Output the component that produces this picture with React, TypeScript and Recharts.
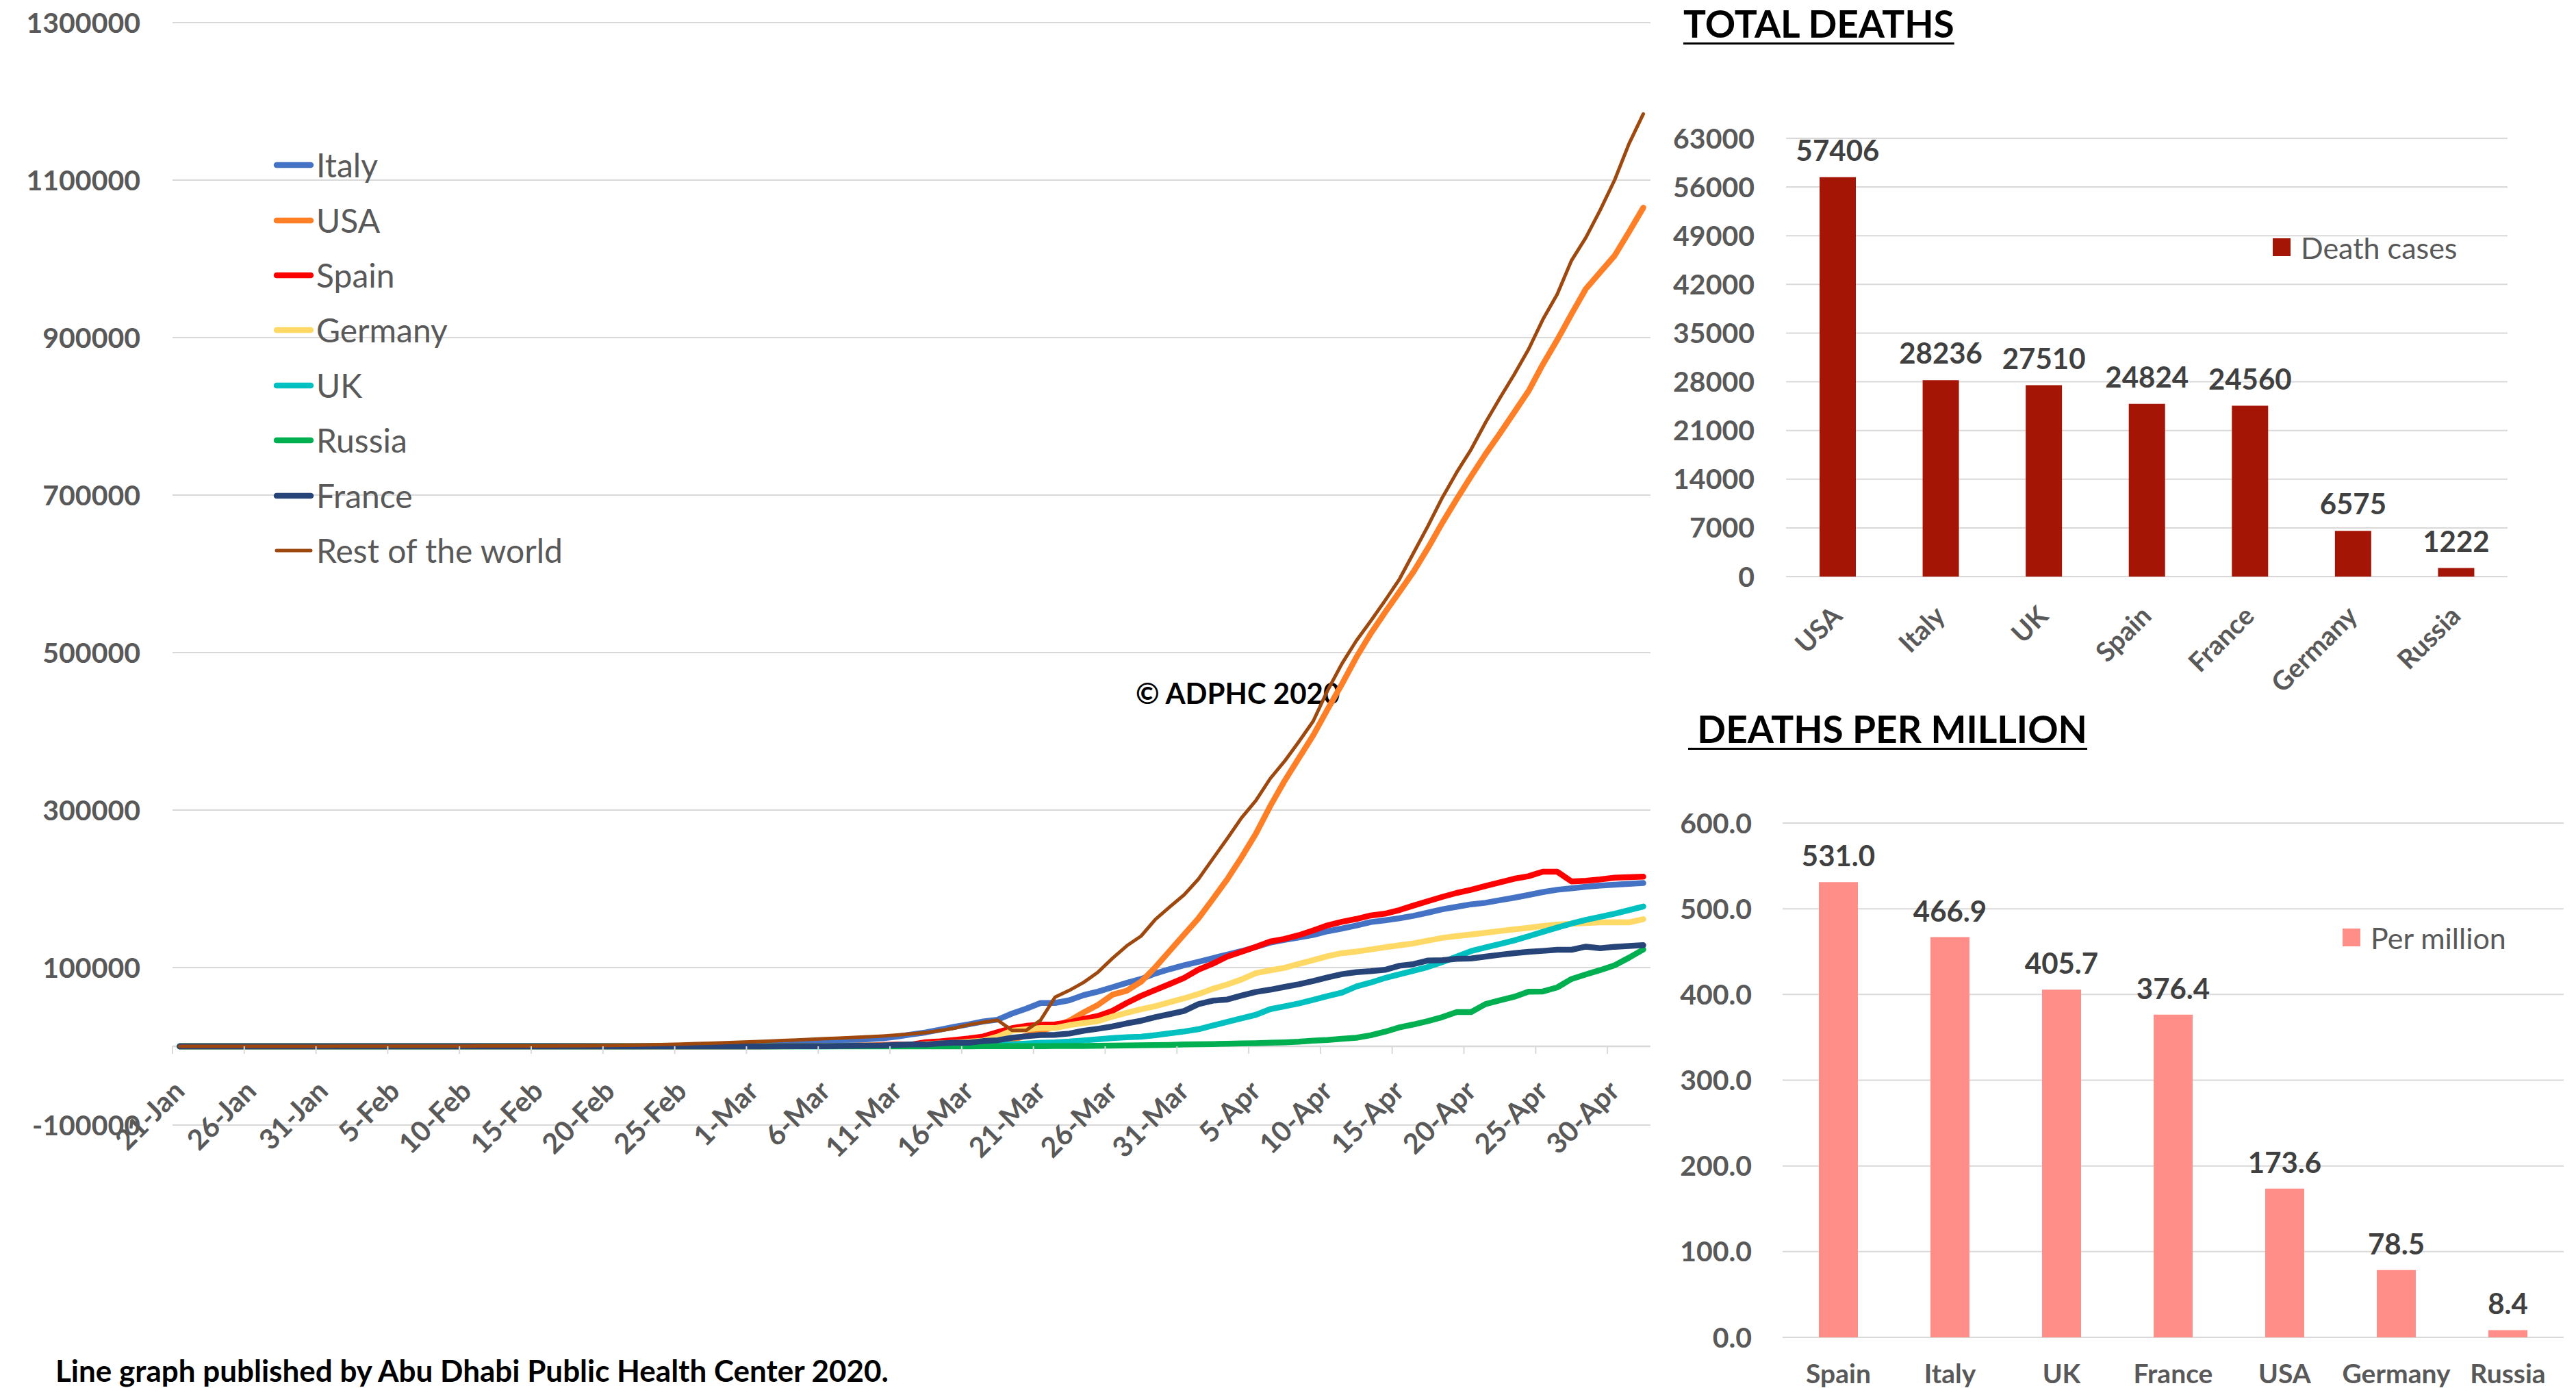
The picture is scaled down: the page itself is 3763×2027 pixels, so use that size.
import {
  Bar,
  BarChart,
  CartesianGrid,
  LabelList,
  Legend,
  Line,
  LineChart,
  ReferenceLine,
  XAxis,
  YAxis,
} from "recharts";

const FONT = "Lato, 'Open Sans', sans-serif";
const AXIS_GREY = "#595959";
const GRID = "#D9D9D9";

// one value per day, first slot is 21-Jan, last is 2-May
const tickLabels = [
  "21-Jan", "26-Jan", "31-Jan", "5-Feb", "10-Feb", "15-Feb", "20-Feb",
  "25-Feb", "1-Mar", "6-Mar", "11-Mar", "16-Mar", "21-Mar", "26-Mar",
  "31-Mar", "5-Apr", "10-Apr", "15-Apr", "20-Apr", "25-Apr", "30-Apr",
];

const italy = [
  0, 0, 0, 0, 0, 0, 0, 0, 0, 0,
  2, 2, 2, 2, 2, 2, 2, 3, 3, 3,
  3, 3, 3, 3, 3, 3, 3, 3, 3, 3,
  3, 20, 62, 155, 229, 322, 453, 655, 888, 1128,
  1694, 2036, 2502, 3089, 3858, 4636, 5883, 7375, 9172, 10149,
  12462, 15113, 17660, 21157, 24747, 27980, 31506, 33800, 41500, 47800,
  55000, 55000, 58500, 65000, 69500, 75000, 80500, 85500, 92500, 98000,
  103000, 107300, 111900, 116500, 120900, 126100, 131600, 135100, 138300, 141500,
  146100, 149600, 153300, 157700, 160000, 162600, 165800, 169800, 174000, 177200,
  180300, 182300, 185500, 188700, 192200, 195900, 198800, 200600, 202600, 204100,
  205300, 206400, 207300,
];

const usa = [
  0, 0, 0, 1, 1, 1, 2, 2, 5, 5,
  5, 6, 8, 8, 11, 11, 11, 12, 12, 12,
  12, 12, 12, 13, 13, 13, 13, 13, 13, 13,
  13, 13, 15, 15, 15, 35, 35, 53, 53, 62,
  70, 76, 101, 122, 153, 221, 278, 417, 537, 605,
  959, 1281, 1663, 2179, 2726, 3499, 4632, 6421, 7786, 13680,
  19101, 25489, 32500, 43000, 52700, 65500, 70500, 82000, 100500, 121300,
  142000, 162500, 187000, 212000, 240000, 270000, 305000, 337000, 366000, 395000,
  428000, 460000, 494000, 524000, 551000, 577000, 603000, 633000, 665000, 695000,
  724000, 752000, 778000, 805000, 832000, 866000, 897000, 930000, 962000, 983000,
  1004000, 1034000, 1065000,
];

const spain = [
  0, 0, 0, 0, 0, 0, 0, 0, 0, 0,
  0, 1, 1, 1, 1, 1, 1, 1, 1, 2,
  2, 2, 2, 2, 2, 2, 2, 2, 2, 2,
  2, 2, 2, 2, 2, 6, 13, 15, 32, 45,
  84, 120, 165, 222, 259, 400, 500, 673, 1073, 1695,
  2277, 2277, 5232, 6391, 8000, 10000, 12500, 18000, 23000, 26000,
  27500, 27800, 30400, 34800, 38500, 45000, 55000, 64000, 71600, 79100,
  86900, 97400, 104900, 113900, 120000, 126300, 133000, 136400, 141100, 147200,
  153600, 158200, 161700, 166100, 168400, 173000, 178800, 184300, 189800, 194800,
  198800, 203500, 208100, 212800, 216000, 221800, 221800, 209300, 210200, 211900,
  214200, 214800, 215400,
];

const germany = [
  0, 0, 0, 0, 0, 0, 0, 1, 4, 4,
  5, 7, 8, 10, 12, 12, 12, 13, 14, 14,
  16, 16, 16, 16, 16, 16, 16, 16, 16, 16,
  16, 16, 16, 16, 16, 16, 17, 27, 46, 48,
  79, 130, 159, 196, 262, 482, 670, 799, 1040, 1176,
  1457, 1908, 2745, 3675, 4585, 5795, 7272, 12327, 19800, 21700,
  23200, 23200, 26900, 29600, 32000, 37700, 42500, 47000, 51000, 56000,
  60900, 66400, 73000, 78500, 84900, 93000, 96500, 99700, 104600, 109500,
  114500, 118300, 120300, 122900, 125800, 128200, 130700, 134200, 137700, 140000,
  142000, 144100, 146400, 148400, 150400, 152800, 154500, 155700, 156600, 157400,
  157700, 157400, 161500,
];

const uk = [
  0, 0, 0, 0, 0, 0, 0, 0, 0, 0,
  0, 0, 2, 2, 2, 2, 2, 2, 2, 3,
  8, 8, 8, 9, 9, 9, 9, 9, 9, 9,
  9, 9, 9, 9, 9, 13, 13, 13, 13, 15,
  20, 23, 36, 40, 51, 85, 115, 163, 206, 273,
  321, 382, 456, 590, 798, 1140, 1551, 1960, 2700, 3500,
  4500, 5000, 6000, 7500, 9000, 10500, 11500, 12200, 14200, 16500,
  18800, 21700, 26400, 31000, 35600, 40000, 47200, 50700, 54500, 59100,
  63800, 68100, 75900, 80900, 86700, 91500, 95900, 100800, 106900, 113900,
  120900, 125500, 129900, 134500, 139800, 145300, 150700, 155900, 160600, 164500,
  168400, 173000, 177600,
];

const russia = [
  0, 0, 0, 0, 0, 0, 0, 0, 0, 0,
  0, 2, 2, 2, 2, 2, 2, 2, 2, 2,
  2, 2, 2, 2, 2, 2, 2, 2, 2, 2,
  2, 2, 2, 2, 2, 2, 2, 2, 2, 2,
  2, 3, 3, 3, 4, 4, 4, 10, 10, 17,
  17, 28, 45, 59, 63, 93, 114, 147, 199, 253,
  306, 367, 438, 495, 658, 840, 1036, 1264, 1534, 1836,
  2300, 2600, 2900, 3300, 3600, 4000, 4500, 5000, 5800, 7200,
  8100, 9600, 10900, 14000, 18500, 24000, 27800, 32100, 37100, 43500,
  43500, 53600, 58300, 62900, 69300, 69600, 74800, 85500, 91300, 96800,
  102900, 112500, 122900,
];

const france = [
  0, 0, 0, 2, 3, 3, 3, 4, 5, 5,
  5, 6, 6, 6, 6, 6, 6, 11, 11, 11,
  11, 11, 11, 11, 11, 12, 12, 12, 12, 12,
  12, 12, 12, 12, 12, 12, 12, 14, 18, 38,
  57, 100, 130, 191, 204, 288, 380, 656, 959, 1136,
  1784, 2284, 2284, 3667, 4480, 4513, 6650, 7699, 10900, 12700,
  14400, 14500, 16200, 19800, 22300, 25200, 29100, 32400, 37100, 40900,
  44900, 53600, 58000, 59400, 64400, 69000, 71900, 75400, 78800, 82900,
  87500, 91600, 94200, 95400, 97100, 102300, 104400, 109000, 109300, 111000,
  111600, 113900, 116200, 118300, 120000, 121200, 122600, 122600, 126600, 124600,
  126400, 127300, 128400,
];

const restOfWorld = [
  8, 10, 13, 19, 27, 35, 45, 56, 65, 85,
  95, 110, 120, 135, 150, 165, 180, 200, 230, 260,
  300, 330, 370, 400, 430, 450, 480, 550, 700, 900,
  1000, 1200, 1500, 1900, 2400, 2900, 3400, 4000, 4600, 5200,
  5900, 6600, 7300, 8100, 8900, 9700, 10400, 11200, 12100, 13000,
  14300, 15800, 17400, 20000, 23000, 27500, 30500, 33300, 20300, 20300,
  33300, 62300, 71000, 81200, 94200, 111600, 127600, 140000, 161200, 177100,
  192400, 212400, 238200, 263700, 290100, 312000, 340000, 362000, 387000, 413000,
  452000, 486000, 515000, 540000, 566000, 593000, 627000, 661000, 697000, 729000,
  758000, 792000, 823000, 853000, 885000, 923000, 955000, 998000, 1027000, 1062000,
  1100000, 1146000, 1184000,
];

const caseTicks = [-100000, 100000, 300000, 500000, 700000, 900000, 1100000, 1300000];

const deathCountries = ["USA", "Italy", "UK", "Spain", "France", "Germany", "Russia"];
const deathCounts = [57406, 28236, 27510, 24824, 24560, 6575, 1222];
const deathTicks = [0, 7000, 14000, 21000, 28000, 35000, 42000, 49000, 56000, 63000];

const perMillionCountries = ["Spain", "Italy", "UK", "France", "USA", "Germany", "Russia"];
const perMillion = [531.0, 466.9, 405.7, 376.4, 173.6, 78.5, 8.4];
const perMillionTicks = [0, 100, 200, 300, 400, 500, 600];

const lineSeries = [
  { name: "Italy", values: italy, color: "#4472C4", width: 8.5 },
  { name: "USA", values: usa, color: "#FF7F27", width: 8.5 },
  { name: "Spain", values: spain, color: "#FF0000", width: 8.5 },
  { name: "Germany", values: germany, color: "#FFD966", width: 8.5 },
  { name: "UK", values: uk, color: "#00C0C0", width: 8.5 },
  { name: "Russia", values: russia, color: "#00B050", width: 8.5 },
  { name: "France", values: france, color: "#264478", width: 8.5 },
  { name: "Rest of the world", values: restOfWorld, color: "#9E480E", width: 5 },
];

const caseRows = italy.map((_, i) => {
  const row: Record<string, number> = { slot: i };
  lineSeries.forEach((s) => {
    row[s.name] = s.values[i];
  });
  return row;
});

const deathRows = deathCountries.map((country, i) => ({ country, deaths: deathCounts[i] }));
const perMillionRows = perMillionCountries.map((country, i) => ({ country, rate: perMillion[i] }));

// tick marks sit on the day boundaries, every fifth day
const dayTicks = tickLabels.map((_, k) => k * 5 - 0.5);

const LINE_W = 2430;
const LINE_H = 1720;
const LINE_MARGIN = { top: 33, right: 19, bottom: 17, left: 0 };
const LINE_XAXIS_H = 60;
const LINE_PLOT_H = LINE_H - LINE_MARGIN.top - LINE_MARGIN.bottom - LINE_XAXIS_H;
// distance from the -100000 gridline up to the zero line
const ZERO_LIFT = (LINE_PLOT_H * 100000) / 1400000;

const DateTick = (props: any) => {
  const { x, y, payload } = props;
  const k = Math.round((payload.value + 0.5) / 5);
  const zeroY = y - ZERO_LIFT;
  const ax = x + 20;
  const ay = zeroY + 68;
  return (
    <g>
      <line x1={x} x2={x} y1={zeroY} y2={zeroY + 11} stroke={GRID} strokeWidth={2} />
      <text
        x={ax}
        y={ay}
        transform={`rotate(-45 ${ax} ${ay})`}
        textAnchor="end"
        fill={AXIS_GREY}
        fontSize={41}
        fontWeight={700}
        fontFamily={FONT}
      >
        {tickLabels[k]}
      </text>
    </g>
  );
};

const SlantTick = (props: any) => {
  const { x, y, payload } = props;
  const ax = x + 9;
  const ay = y + 60;
  return (
    <text
      x={ax}
      y={ay}
      transform={`rotate(-45 ${ax} ${ay})`}
      textAnchor="end"
      fill={AXIS_GREY}
      fontSize={39}
      fontWeight={700}
      fontFamily={FONT}
    >
      {payload.value}
    </text>
  );
};

// legend rows follow the series order, not the library's sorting
const SeriesKey = () => (
  <div style={{ fontFamily: FONT }}>
    {lineSeries.map((s) => (
      <div key={s.name} style={{ display: "flex", alignItems: "center", height: 80.4 }}>
        <svg width={66} height={20} style={{ display: "block" }}>
          <line
            x1={8}
            y1={10}
            x2={58}
            y2={10}
            stroke={s.color}
            strokeWidth={s.width}
            strokeLinecap="round"
          />
        </svg>
        <span style={{ fontSize: 48, color: AXIS_GREY, lineHeight: 1, whiteSpace: "nowrap" }}>
          {s.name}
        </span>
      </div>
    ))}
  </div>
);

const SquareKey = ({ payload }: any) => (
  <div style={{ fontFamily: FONT }}>
    {(payload || []).map((p: any) => (
      <div key={p.value} style={{ display: "flex", alignItems: "center", height: 40 }}>
        <div style={{ width: 26, height: 26, background: p.color, marginRight: 15 }} />
        <span style={{ fontSize: 43, color: AXIS_GREY, lineHeight: 1, whiteSpace: "nowrap" }}>
          {p.value}
        </span>
      </div>
    ))}
  </div>
);

const titleStyle = {
  position: "absolute" as const,
  fontFamily: FONT,
  fontWeight: 700,
  fontSize: 55,
  lineHeight: 1,
  color: "#000",
  textDecoration: "underline",
  textDecorationThickness: 3,
  textUnderlineOffset: 7,
  whiteSpace: "pre" as const,
};

const axisTick = { fill: AXIS_GREY, fontSize: 41, fontWeight: 700, fontFamily: FONT };
const valueLabel = { fill: "#404040", fontSize: 42, fontWeight: 700, fontFamily: FONT };

export default function App() {
  return (
    <div
      style={{
        position: "absolute",
        left: 0,
        top: 0,
        width: 3763,
        height: 2027,
        background: "#fff",
        overflow: "hidden",
      }}
    >
      <div style={{ position: "absolute", left: 0, top: 0 }}>
        <LineChart width={LINE_W} height={LINE_H} data={caseRows} margin={LINE_MARGIN}>
          <CartesianGrid vertical={false} stroke={GRID} strokeWidth={2} />
          <XAxis
            dataKey="slot"
            type="number"
            domain={[-0.5, italy.length - 0.5]}
            ticks={dayTicks}
            interval={0}
            height={LINE_XAXIS_H}
            axisLine={false}
            tickLine={false}
            tickSize={0}
            tickMargin={0}
            tick={<DateTick />}
          />
          <YAxis
            type="number"
            domain={[-100000, 1300000]}
            ticks={caseTicks}
            interval={0}
            width={252}
            axisLine={false}
            tickLine={false}
            tickSize={0}
            tickMargin={47}
            tick={axisTick}
          />
          <ReferenceLine y={0} stroke={GRID} strokeWidth={2.5} />
          <text x={1659} y={1028} fontSize={42} fontWeight={700} fontFamily={FONT} fill="#000">
            © ADPHC 2020
          </text>
          <Legend
            layout="vertical"
            align="center"
            verticalAlign="middle"
            wrapperStyle={{ left: 396, top: 201, width: 700 }}
            content={<SeriesKey />}
          />
          {lineSeries.map((s) => (
            <Line
              key={s.name}
              type="linear"
              dataKey={s.name}
              name={s.name}
              stroke={s.color}
              strokeWidth={s.width}
              strokeLinecap="round"
              strokeLinejoin="round"
              dot={false}
              activeDot={false}
              isAnimationActive={false}
            />
          ))}
        </LineChart>
      </div>

      <div style={{ ...titleStyle, left: 2459, top: 7 }}>TOTAL DEATHS</div>
      <div style={{ position: "absolute", left: 2440, top: 150 }}>
        <BarChart
          width={1323}
          height={880}
          data={deathRows}
          margin={{ top: 52, right: 100, bottom: 88, left: 0 }}
        >
          <CartesianGrid vertical={false} stroke={GRID} strokeWidth={2} />
          <XAxis
            dataKey="country"
            interval={0}
            height={100}
            axisLine={false}
            tickLine={false}
            tickSize={0}
            tickMargin={0}
            tick={<SlantTick />}
          />
          <YAxis
            domain={[0, 63000]}
            ticks={deathTicks}
            interval={0}
            width={169}
            axisLine={false}
            tickLine={false}
            tickSize={0}
            tickMargin={46}
            tick={axisTick}
          />
          <Legend
            layout="vertical"
            align="center"
            verticalAlign="middle"
            wrapperStyle={{ left: 880, top: 191, width: 400 }}
            content={<SquareKey />}
          />
          <Bar dataKey="deaths" name="Death cases" fill="#A51505" barSize={53} isAnimationActive={false}>
            <LabelList dataKey="deaths" position="top" offset={24} {...valueLabel} />
          </Bar>
        </BarChart>
      </div>

      <div style={{ ...titleStyle, left: 2466, top: 1037 }}>{" DEATHS PER MILLION"}</div>
      <div style={{ position: "absolute", left: 2440, top: 1150 }}>
        <BarChart
          width={1323}
          height={877}
          data={perMillionRows}
          margin={{ top: 52, right: 18, bottom: 14, left: 0 }}
        >
          <CartesianGrid vertical={false} stroke={GRID} strokeWidth={2} />
          <XAxis
            dataKey="country"
            interval={0}
            height={60}
            axisLine={false}
            tickLine={false}
            tickSize={0}
            tickMargin={39}
            tick={{ ...axisTick, fontSize: 39 }}
          />
          <YAxis
            domain={[0, 600]}
            ticks={perMillionTicks}
            interval={0}
            width={164}
            axisLine={false}
            tickLine={false}
            tickSize={0}
            tickMargin={45}
            tick={axisTick}
            tickFormatter={(v) => Number(v).toFixed(1)}
          />
          <Legend
            layout="vertical"
            align="center"
            verticalAlign="middle"
            wrapperStyle={{ left: 982, top: 199, width: 340 }}
            content={<SquareKey />}
          />
          <Bar dataKey="rate" name="Per million" fill="#FF8E88" barSize={57} isAnimationActive={false}>
            <LabelList
              dataKey="rate"
              position="top"
              offset={23}
              formatter={(v: any) => Number(v).toFixed(1)}
              {...valueLabel}
            />
          </Bar>
        </BarChart>
      </div>

      <div
        style={{
          position: "absolute",
          left: 81,
          top: 1979,
          fontFamily: FONT,
          fontWeight: 700,
          fontSize: 44,
          lineHeight: 1,
          color: "#000",
          whiteSpace: "nowrap",
        }}
      >
        Line graph published by Abu Dhabi Public Health Center 2020.
      </div>
    </div>
  );
}
